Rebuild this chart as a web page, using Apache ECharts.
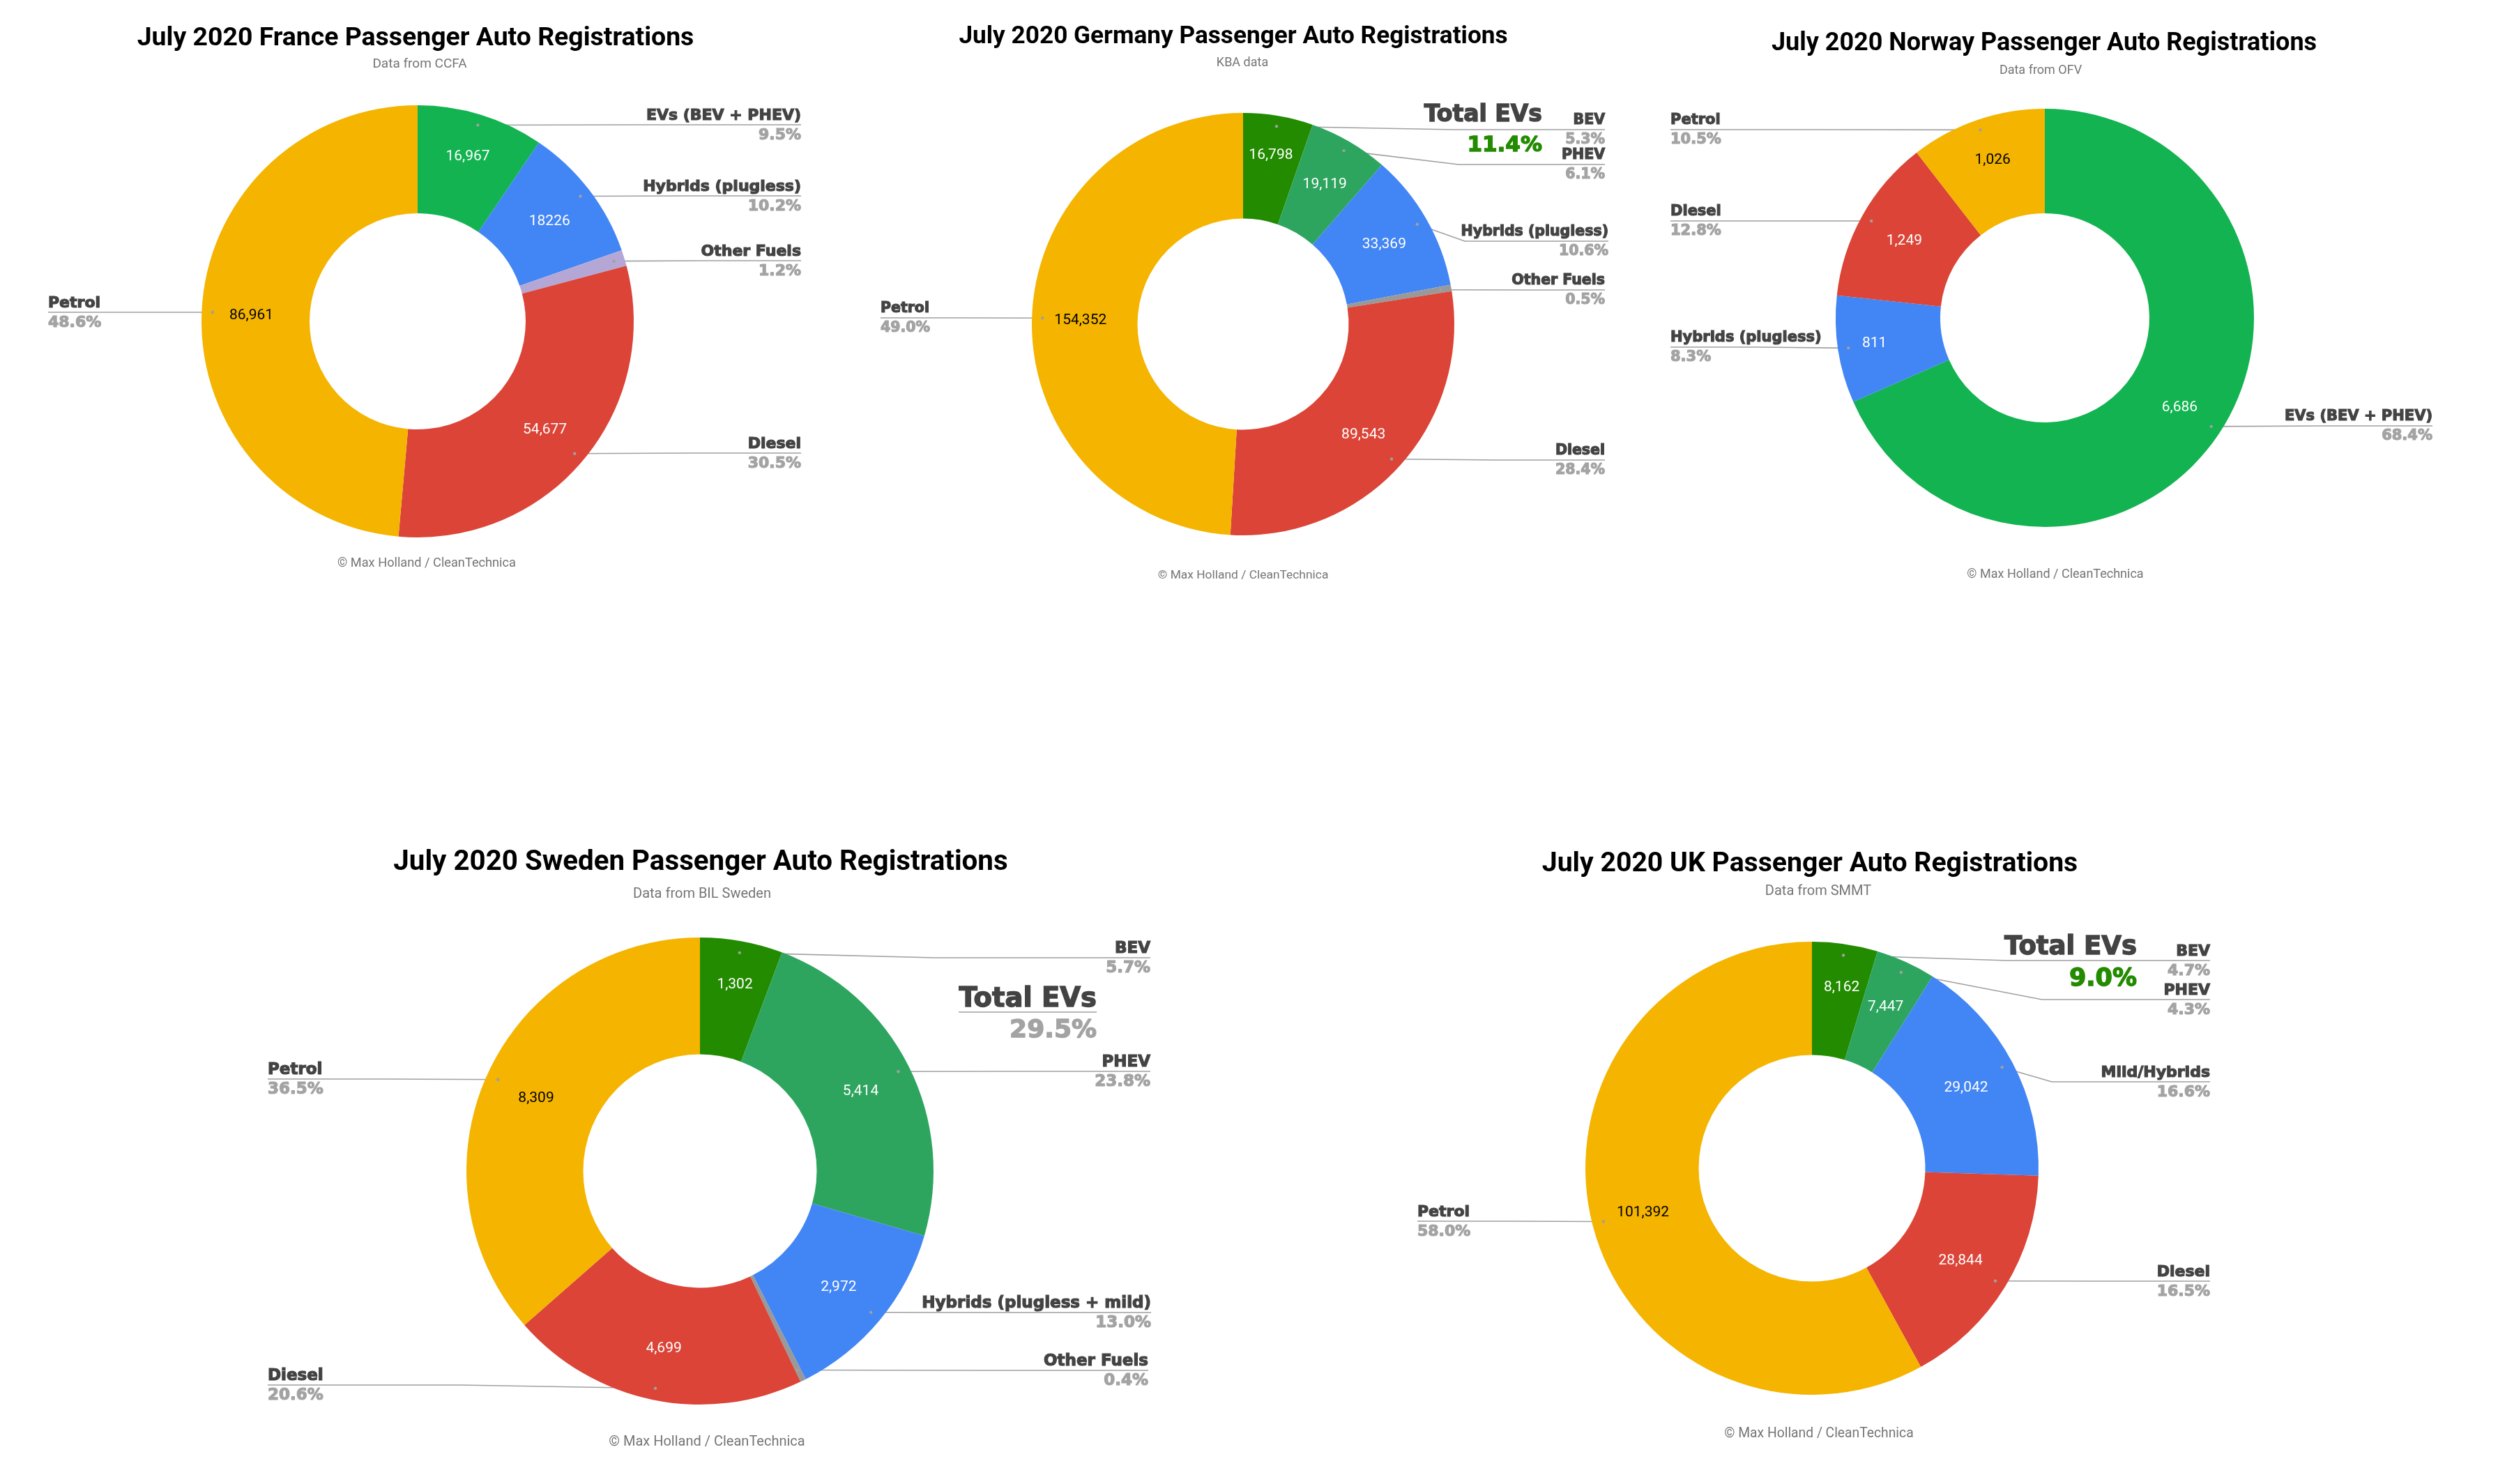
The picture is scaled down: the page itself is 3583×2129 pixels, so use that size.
<!DOCTYPE html>
<html>
<head>
<meta charset="utf-8">
<title>July 2020 Passenger Auto Registrations</title>
<script src="https://cdn.jsdelivr.net/npm/echarts@6/dist/echarts.min.js"></script>
<style>
html, body {margin: 0; padding: 0; background: #fff;}
#main {width: 3583px; height: 2129px;}
</style>
</head>
<body>
<div id="main"></div>
<script>
// data. "Other" slices have no printed count, estimated from their percent
var franceNames = ['EVs (BEV + PHEV)', 'Hybrids (plugless)', 'Other Fuels', 'Diesel', 'Petrol'];
var franceValues = [16967, 18226, 2148, 54677, 86961];
var franceCounts = ['16,967', '18226', '', '54,677', '86,961'];
var francePercents = ['9.5%', '10.2%', '1.2%', '30.5%', '48.6%'];

var germanyNames = ['BEV', 'PHEV', 'Hybrids (plugless)', 'Other Fuels', 'Diesel', 'Petrol'];
var germanyValues = [16798, 19119, 33369, 1574, 89543, 154352];
var germanyCounts = ['16,798', '19,119', '33,369', '', '89,543', '154,352'];
var germanyPercents = ['5.3%', '6.1%', '10.6%', '0.5%', '28.4%', '49.0%'];

var norwayNames = ['EVs (BEV + PHEV)', 'Hybrids (plugless)', 'Diesel', 'Petrol'];
var norwayValues = [6686, 811, 1249, 1026];
var norwayCounts = ['6,686', '811', '1,249', '1,026'];
var norwayPercents = ['68.4%', '8.3%', '12.8%', '10.5%'];

var swedenNames = ['BEV', 'PHEV', 'Hybrids (plugless + mild)', 'Other Fuels', 'Diesel', 'Petrol'];
var swedenValues = [1302, 5414, 2972, 91, 4699, 8309];
var swedenCounts = ['1,302', '5,414', '2,972', '', '4,699', '8,309'];
var swedenPercents = ['5.7%', '23.8%', '13.0%', '0.4%', '20.6%', '36.5%'];

var ukNames = ['BEV', 'PHEV', 'Mild/Hybrids', 'Diesel', 'Petrol'];
var ukValues = [8162, 7447, 29042, 28844, 101392];
var ukCounts = ['8,162', '7,447', '29,042', '28,844', '101,392'];
var ukPercents = ['4.7%', '4.3%', '16.6%', '16.5%', '58.0%'];

var FOOTER = '© Max Holland / CleanTechnica';
var HEAVY_FONT = '"DejaVu Sans"';
var DARK = '#434343';
var GREY = '#a3a3a3';
var LINE_GREY = '#a0a0a0';

var YELLOW = '#f4b400';
var RED = '#db4437';
var BLUE = '#4285f4';
var EV_GREEN = '#12b350';
var BEV_GREEN = '#228b00';
var PHEV_GREEN = '#2ea55f';
var OTHER_GREY = '#999999';
var OTHER_PURPLE = '#b4a7d6';

// callouts: y is the underline, end the outer text edge, elbow where the line turns flat
// countShift: a few count labels sit off the ring's middle in the original
var charts = [
    {
        title: 'July 2020 France Passenger Auto Registrations', sub: 'Data from CCFA',
        names: franceNames, values: franceValues, counts: franceCounts, percents: francePercents,
        colors: [EV_GREEN, BLUE, OTHER_PURPLE, RED, YELLOW],
        cx: 599, cy: 461, r: 310, labelSize: 22,
        titleX: 596, titleY: 56, titleSize: 37.4, subX: 602, subY: 92, subSize: 19, footX: 612, footY: 808, footSize: 18.2,
        countShift: {0: [2, -10]},
        callouts: [
            {y: 179, end: 1149}, {y: 281, end: 1149}, {y: 374, end: 1149},
            {y: 650, end: 1149}, {y: 448, end: 69}
        ]
    },
    {
        title: 'July 2020 Germany Passenger Auto Registrations', sub: 'KBA data',
        names: germanyNames, values: germanyValues, counts: germanyCounts, percents: germanyPercents,
        colors: [BEV_GREEN, PHEV_GREEN, BLUE, OTHER_GREY, RED, YELLOW],
        cx: 1783, cy: 465, r: 303, labelSize: 20.5,
        titleX: 1769, titleY: 53, titleSize: 35.2, subX: 1782, subY: 90, subSize: 18, footX: 1783, footY: 826, footSize: 17.4,
        countShift: {0: [1, -14]},
        callouts: [
            {y: 186, end: 2302, elbow: 2086}, {y: 236, end: 2302, elbow: 2092}, {y: 346, end: 2307, elbow: 2101},
            {y: 416, end: 2302}, {y: 660, end: 2302}, {y: 456, end: 1263}
        ],
        total: {label: 'Total EVs', percent: '11.4%', color: BEV_GREEN, x: 2212, y: 165, percentY: 209, size: 33, percentSize: 31}
    },
    {
        title: 'July 2020 Norway Passenger Auto Registrations', sub: 'Data from OFV',
        names: norwayNames, values: norwayValues, counts: norwayCounts, percents: norwayPercents,
        colors: [EV_GREEN, BLUE, RED, YELLOW],
        cx: 2933, cy: 456, r: 300, labelSize: 21,
        titleX: 2932, titleY: 63, titleSize: 36, subX: 2927, subY: 101, subSize: 18, footX: 2948, footY: 824, footSize: 18,
        countShift: {1: [-16, 0], 3: [0, -10]},
        callouts: [
            {y: 611, end: 3489}, {y: 498, end: 2396}, {y: 317, end: 2396}, {y: 186, end: 2396}
        ]
    },
    {
        title: 'July 2020 Sweden Passenger Auto Registrations', sub: 'Data from BIL Sweden',
        names: swedenNames, values: swedenValues, counts: swedenCounts, percents: swedenPercents,
        colors: [BEV_GREEN, PHEV_GREEN, BLUE, OTHER_GREY, RED, YELLOW],
        cx: 1004, cy: 1680, r: 335, labelSize: 23,
        titleX: 1005, titleY: 1238, titleSize: 40.3, subX: 1007, subY: 1283, subSize: 20, footX: 1014, footY: 2069, footSize: 20,
        countShift: {0: [4, -15]},
        callouts: [
            {y: 1374, end: 1650, elbow: 1340}, {y: 1537, end: 1650}, {y: 1883, end: 1651},
            {y: 1966, end: 1647}, {y: 1987, end: 384, elbow: 660}, {y: 1548, end: 384}
        ],
        total: {label: 'Total EVs', percent: '29.5%', color: GREY, x: 1573, y: 1434, percentY: 1479, size: 38.5, percentSize: 36, underline: {x1: 1375, x2: 1573, y: 1452}}
    },
    {
        title: 'July 2020 UK Passenger Auto Registrations', sub: 'Data from SMMT',
        names: ukNames, values: ukValues, counts: ukCounts, percents: ukPercents,
        colors: [BEV_GREEN, PHEV_GREEN, BLUE, RED, YELLOW],
        cx: 2599, cy: 1676, r: 325, labelSize: 22,
        titleX: 2596, titleY: 1240, titleSize: 39.2, subX: 2608, subY: 1279, subSize: 20, footX: 2609, footY: 2057, footSize: 19.3,
        countShift: {0: [6, -14], 1: [2, -5]},
        callouts: [
            {y: 1378, end: 3170, elbow: 2879}, {y: 1434, end: 3170, elbow: 2929}, {y: 1552, end: 3170, elbow: 2943},
            {y: 1838, end: 3170}, {y: 1752, end: 2033}
        ],
        total: {label: 'Total EVs', percent: '9.0%', color: BEV_GREEN, x: 3065, y: 1359, percentY: 1405, size: 37, percentSize: 35}
    }
];

/**
 * 扇区中线上某个半径比例处的像素坐标
 */
function slicePoint(chart, index, ratio) {
    var total = 0;
    var before = 0;
    chart.values.forEach(function (value, i) {
        total += value;
        if (i < index) {
            before += value;
        }
    });
    var angle = (before + chart.values[index] / 2) / total * Math.PI * 2;
    return [
        chart.cx + Math.sin(angle) * chart.r * ratio,
        chart.cy - Math.cos(angle) * chart.r * ratio
    ];
}

function sliceSeries(chart) {
    return {
        type: 'pie',
        silent: true,
        startAngle: 90,
        center: [chart.cx, chart.cy],
        radius: [chart.r / 2, chart.r],
        data: chart.names.map(function (name, i) {
            return {
                name: name,
                value: chart.values[i],
                itemStyle: {color: chart.colors[i]},
                label: {color: chart.colors[i] === YELLOW ? '#000000' : '#ffffff'}
            };
        }),
        label: {
            show: true,
            position: 'inside',
            fontFamily: 'Roboto',
            fontSize: 21,
            formatter: function (params) {
                return chart.counts[params.dataIndex];
            }
        },
        labelLine: {show: false},
        labelLayout: function (params) {
            var p = slicePoint(chart, params.dataIndex, 0.77);
            var shift = chart.countShift[params.dataIndex] || [0, 0];
            return {x: p[0] + shift[0], y: p[1] + 2 + shift[1], align: 'center', verticalAlign: 'middle'};
        }
    };
}

// 透明的一层，只负责外侧的名称、百分比和引线
function calloutSeries(chart) {
    function rowStyle(color) {
        return {
            fontFamily: HEAVY_FONT,
            fontWeight: 'bold',
            fontSize: chart.labelSize,
            lineHeight: 28,
            color: color,
            textBorderColor: color,
            textBorderWidth: 1.2
        };
    }
    return {
        type: 'pie',
        silent: true,
        startAngle: 90,
        avoidLabelOverlap: false,
        center: [chart.cx, chart.cy],
        radius: [chart.r / 2, chart.r],
        itemStyle: {color: 'transparent'},
        data: chart.names.map(function (name, i) {
            return {name: name, value: chart.values[i]};
        }),
        label: {
            show: true,
            position: 'outside',
            formatter: function (params) {
                return '{name|' + params.name + '}\n{pct|' + chart.percents[params.dataIndex] + '}';
            },
            rich: {
                name: rowStyle(DARK),
                pct: rowStyle(GREY)
            }
        },
        labelLine: {
            show: true,
            smooth: false,
            lineStyle: {color: LINE_GREY, width: 1.6}
        },
        labelLayout: function (params) {
            var callout = chart.callouts[params.dataIndex];
            var anchor = slicePoint(chart, params.dataIndex, 0.95);
            var elbow = callout.elbow || (anchor[0] + callout.end) / 2;
            return {
                x: callout.end,
                y: callout.y + 1,
                align: callout.end > chart.cx ? 'right' : 'left',
                verticalAlign: 'middle',
                labelLinePoints: [anchor, [elbow, callout.y], [callout.end, callout.y]]
            };
        }
    };
}

function titleItem(text, x, y, size, weight, color) {
    return {
        text: text,
        left: x,
        top: y,
        padding: 0,
        textAlign: 'center',
        textVerticalAlign: 'middle',
        textStyle: {fontFamily: 'Roboto', fontSize: size, fontWeight: weight, color: color}
    };
}

function totalText(text, x, y, size, color) {
    return {
        type: 'text',
        x: x,
        y: y,
        z: 20,
        style: {
            text: text,
            fill: color,
            stroke: color,
            lineWidth: 1.4,
            font: 'bold ' + size + 'px ' + HEAVY_FONT,
            align: 'right',
            verticalAlign: 'middle'
        }
    };
}

var titles = [];
var series = [];
var graphics = [];

charts.forEach(function (chart) {
    titles.push(titleItem(chart.title, chart.titleX, chart.titleY, chart.titleSize, 'bold', '#000000'));
    titles.push(titleItem(chart.sub, chart.subX, chart.subY, chart.subSize, 'normal', '#757575'));
    titles.push(titleItem(FOOTER, chart.footX, chart.footY, chart.footSize, 'normal', '#757575'));

    series.push(sliceSeries(chart));
    series.push(calloutSeries(chart));

    chart.names.forEach(function (name, i) {
        var p = slicePoint(chart, i, 0.95);
        graphics.push({
            type: 'circle',
            z: 20,
            silent: true,
            shape: {cx: p[0], cy: p[1], r: 2.2},
            style: {fill: LINE_GREY}
        });
    });

    var total = chart.total;
    if (total) {
        graphics.push(totalText(total.label, total.x, total.y, total.size, DARK));
        graphics.push(totalText(total.percent, total.x, total.percentY, total.percentSize, total.color));
        if (total.underline) {
            graphics.push({
                type: 'line',
                z: 20,
                shape: {x1: total.underline.x1, y1: total.underline.y, x2: total.underline.x2, y2: total.underline.y},
                style: {stroke: LINE_GREY, lineWidth: 1.6}
            });
        }
    }
});

var myChart = echarts.init(document.getElementById('main'));
myChart.setOption({
    animation: false,
    backgroundColor: '#ffffff',
    tooltip: {show: false},
    title: titles,
    graphic: graphics,
    series: series
});
</script>
</body>
</html>
